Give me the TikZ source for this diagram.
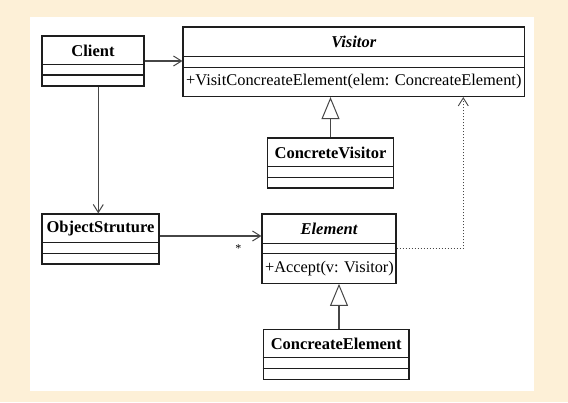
\documentclass[tikz,border=0pt]{standalone}
\usepackage{fontspec}
\setmainfont{Liberation Serif}
\usetikzlibrary{arrows.meta}
\definecolor{cream}{RGB}{253,240,215}
\definecolor{boxline}{RGB}{30,30,30}
\definecolor{conn}{RGB}{70,70,70}
\begin{document}
\begin{tikzpicture}[x=1pt,y=-1pt,
  cls/.style={draw=boxline,line width=1.2pt,inner sep=0pt,fill=white},
  sep/.style={draw=boxline,line width=1.1pt},
  ttl/.style={inner sep=0pt,font=\fontsize{16.5}{18}\selectfont\bfseries},
  ttli/.style={inner sep=0pt,font=\fontsize{16.5}{18}\selectfont\bfseries\itshape},
  mth/.style={inner sep=0pt,font=\fontsize{16.4}{18}\selectfont},
  assoc/.style={draw=conn,line width=1.1pt,-{Straight Barb[length=8pt,width=10pt,line width=1pt]}},
  gen/.style={draw=conn,line width=1.1pt,-{Triangle[open,length=22pt,width=18pt,line width=1pt,fill=white]}},
  dep/.style={draw=conn,line width=1pt,dotted,-{Straight Barb[length=8pt,width=10pt,line width=0.9pt,sep=0pt]}}
]
\fill[cream] (0,0) rectangle (568,402);
\fill[white] (30,16.7) rectangle (534,390.7);
\useasboundingbox (0,0) rectangle (568,402);

% Client
\node[cls,minimum width=102pt,minimum height=50pt] (client) at (93,61) {};
\draw[sep] (client.west |- 0,64.3) -- (client.east |- 0,64.3);
\draw[sep] (client.west |- 0,75) -- (client.east |- 0,75);
\node[ttl] (clientT) at (93,50.5) {Client};

% Visitor
\node[cls,minimum width=341.5pt,minimum height=69.5pt] (visitor) at (353.75,61.75) {};
\draw[sep] (visitor.west |- 0,56.7) -- (visitor.east |- 0,56.7);
\draw[sep] (visitor.west |- 0,67.7) -- (visitor.east |- 0,67.7);
\node[ttli] (visitorT) at (353.75,42) {Visitor};
\node[mth,anchor=west] (visitorM) at (186,82) {+VisitConcreateElement(elem: ConcreateElement)};

% ConcreteVisitor
\node[cls,minimum width=126pt,minimum height=50pt] (cvis) at (330.5,163) {};
\draw[sep] (cvis.west |- 0,166.7) -- (cvis.east |- 0,166.7);
\draw[sep] (cvis.west |- 0,177.3) -- (cvis.east |- 0,177.3);
\node[ttl] (cvisT) at (330.5,152.5) {ConcreteVisitor};

% ObjectStruture
\node[cls,minimum width=117pt,minimum height=50pt] (objs) at (100.5,239) {};
\draw[sep] (objs.west |- 0,242.7) -- (objs.east |- 0,242.7);
\draw[sep] (objs.west |- 0,253.3) -- (objs.east |- 0,253.3);
\node[ttl] (objsT) at (100.5,228.5) {ObjectStruture};

% Element
\node[cls,minimum width=134pt,minimum height=69.3pt] (elem) at (329,248.65) {};
\draw[sep] (elem.west |- 0,243.3) -- (elem.east |- 0,243.3);
\draw[sep] (elem.west |- 0,253.3) -- (elem.east |- 0,253.3);
\node[ttli] (elemT) at (329,228.5) {Element};
\node[mth,anchor=west,font=\fontsize{16.3}{18}\selectfont] (elemM) at (265,268.5) {+Accept(v: Visitor)};

% ConcreateElement
\node[cls,minimum width=145.7pt,minimum height=50pt] (celem) at (336.15,354.3) {};
\draw[sep] (celem.west |- 0,357.7) -- (celem.east |- 0,357.7);
\draw[sep] (celem.west |- 0,368.3) -- (celem.east |- 0,368.3);
\node[ttl] (celemT) at (336.15,343.5) {ConcreateElement};

% connectors
\draw[assoc] (client.east) -- (client.east -| visitor.west);
\draw[assoc] ([xshift=5.3pt]client.south) -- ([xshift=5.3pt]client.south |- objs.north);
\draw[assoc] ([yshift=3pt]objs.east) -- ([yshift=3pt]objs.east -| elem.west);
\node[inner sep=0pt,font=\fontsize{12}{12}\selectfont] (star) at (238.3,249) {*};
\draw[gen] (cvis.north) -- (cvis.north |- visitor.south);
\draw[gen] ([xshift=2.85pt]celem.north) -- ([xshift=2.85pt]celem.north |- elem.south);
\draw[dep] (elem.east) -| ([xshift=109.55pt]visitor.south);
\end{tikzpicture}
\end{document}
